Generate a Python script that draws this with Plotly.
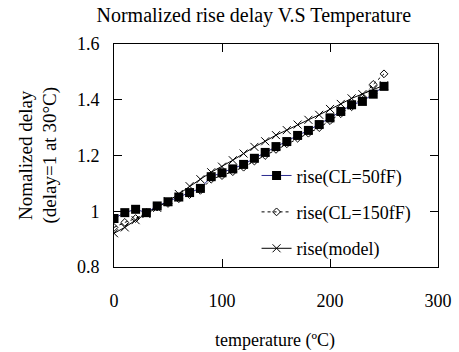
import plotly.graph_objects as go

temperature = [0, 10, 20, 30, 40, 50, 60, 70, 80, 90, 100, 110, 120, 130, 140, 150,
               160, 170, 180, 190, 200, 210, 220, 230, 240, 250]
rise_cl50 = [0.974, 0.995, 1.007, 0.995, 1.019, 1.034, 1.051, 1.067, 1.082, 1.124, 1.138,
             1.152, 1.168, 1.190, 1.211, 1.232, 1.250, 1.272, 1.290, 1.311, 1.335, 1.358,
             1.382, 1.394, 1.420, 1.448]
rise_cl150 = [0.942, 0.960, 0.974, 0.995, 1.015, 1.028, 1.045, 1.060, 1.075, 1.115, 1.128,
              1.142, 1.158, 1.180, 1.200, 1.222, 1.242, 1.262, 1.280, 1.300, 1.325, 1.350,
              1.375, 1.410, 1.455, 1.493]
rise_model = [0.921, 0.942, 0.968, 0.990, 1.012, 1.036, 1.062, 1.090, 1.115, 1.140, 1.160,
              1.183, 1.207, 1.231, 1.251, 1.273, 1.291, 1.311, 1.328, 1.346, 1.367, 1.385,
              1.405, 1.420, 1.437, 1.452]
x_ticks = [0, 100, 200, 300]
y_ticks = [0.8, 1.0, 1.2, 1.4, 1.6]
y_tick_text = ["0.8", "1", "1.2", "1.4", "1.6"]

FONT = "Liberation Serif, Times New Roman, serif"

fig = go.Figure()
fig.add_trace(go.Scatter(
    x=temperature, y=rise_cl50, mode="lines+markers", name="rise(CL=50fF)",
    line=dict(color="#2b2b8f", width=1),
    marker=dict(symbol="square", size=9, color="black"),
    legendgroup="a"))
fig.add_trace(go.Scatter(
    x=temperature, y=rise_cl150, mode="lines+markers", name="rise(CL=150fF)",
    line=dict(color="black", width=1, dash="dot"),
    marker=dict(symbol="diamond-open", size=6, color="black", line=dict(width=1)),
    legendgroup="b"))
fig.add_trace(go.Scatter(
    x=temperature, y=rise_model, mode="lines+markers", name="rise(model)",
    line=dict(color="black", width=1),
    marker=dict(symbol="x-thin-open", size=8, color="black", line=dict(width=1, color="black")),
    legendgroup="c"))

axis_common = dict(showline=True, linecolor="black", linewidth=1, mirror="ticks",
                   ticks="inside", ticklen=8, tickcolor="black", showgrid=False,
                   zeroline=False, automargin=False,
                   tickfont=dict(family=FONT, size=18, color="black"))

fig.update_layout(
    width=459, height=352,
    margin=dict(l=114, r=21, t=44, b=85),
    paper_bgcolor="white", plot_bgcolor="white",
    font=dict(family=FONT, color="black"),
    title=dict(text="Normalized rise delay V.S Temperature", x=0.553, xanchor="center",
               y=0.957, yanchor="middle", font=dict(family=FONT, size=20, color="black")),
    xaxis=dict(range=[0, 300], tickvals=x_ticks, ticklabelstandoff=17, **axis_common),
    yaxis=dict(range=[0.8, 1.6], tickvals=y_ticks, ticktext=y_tick_text,
               ticklabelstandoff=10, **axis_common),
    legend=dict(x=0.44, y=0.492, xanchor="left", yanchor="top", bgcolor="rgba(0,0,0,0)",
                font=dict(family=FONT, size=18, color="black"), tracegroupgap=10),
    showlegend=True,
)

fig.add_annotation(text="Nomalized delay<br>(delay=1 at 30°C)", xref="paper", yref="paper",
                   x=(38 - 114) / 324, y=0.5, textangle=-90, showarrow=False,
                   font=dict(family=FONT, size=19, color="black"), xanchor="center", yanchor="middle")
fig.add_annotation(text="temperature (ºC)", xref="paper", yref="paper",
                   x=(275 - 114) / 324, y=-(340 - 267) / 223, showarrow=False,
                   font=dict(family=FONT, size=18, color="black"), xanchor="center", yanchor="middle")

fig.write_html("out.html", config={"displayModeBar": False},
               post_script="document.body.style.margin='0';")
